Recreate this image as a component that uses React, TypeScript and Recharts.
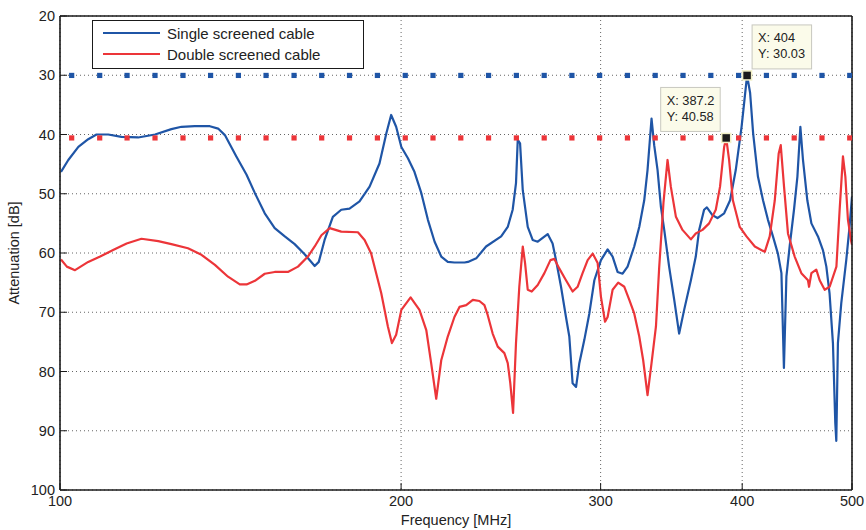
import { CartesianGrid, Line, LineChart, ReferenceDot, XAxis, YAxis } from "recharts";

const FONT = '"Liberation Sans", Arial, Helvetica, sans-serif';
const BLUE = "#1f55a6";
const RED = "#ec3539";
const INK = "#1a1a1a";

const freqTicks = [100, 200, 300, 400, 500];
const dbTicks = [20, 30, 40, 50, 60, 70, 80, 90, 100];

// Single screened cable
const singleFreq = [
  100.2, 101.7, 103.8, 105.9, 107.7, 110.3, 113.3, 117.2, 121.3, 125.4, 128.0, 131.5, 135.6, 137.9,
  139.8, 143.1, 146.1, 148.6, 151.6, 154.7, 157.9, 161.1, 164.4, 167.8, 169.2, 171.2, 174.1, 177.1,
  180.1, 183.8, 187.6, 191.4, 194.1, 196.0, 198.0, 200.1, 202.8, 205.5, 208.4, 211.2, 214.1, 217.0,
  219.9, 222.9, 227.5, 229.1, 233.0, 237.7, 245.1, 248.4, 250.9, 252.6, 253.5, 254.7, 256.1, 258.7,
  261.3, 264.0, 269.4, 272.1, 274.0, 276.8, 279.6, 281.5, 283.4, 285.4, 287.3, 290.2, 293.2, 296.2,
  300.2, 304.3, 307.4, 310.5, 313.7, 316.9, 321.2, 324.5, 327.8, 330.0, 332.7, 334.5, 336.8, 339.1,
  341.4, 344.8, 348.4, 351.9, 355.5, 360.4, 364.0, 366.5, 370.2, 372.3, 376.5, 380.4, 385.6, 390.3,
  394.8, 399.5, 404.0, 406.5, 409.0, 413.0, 417.3, 421.5, 425.8, 430.1, 433.2, 435.4, 437.6, 440.5,
  444.4, 447.5, 450.2, 452.6, 456.6, 460.4, 466.6, 471.3, 474.6, 477.7, 481.0, 483.3, 484.3, 485.9,
  489.2, 494.2, 497.5, 500.0,
];
const singleDb = [
  46.3, 44.3, 42.1, 40.8, 40.0, 40.0, 40.4, 40.5, 40.0, 39.1, 38.7, 38.6, 38.6, 39.0,
  40.1, 43.7, 46.8, 49.9, 53.3, 55.8, 57.2, 58.5, 60.2, 62.2, 61.5, 57.8, 53.9, 52.7,
  52.5, 51.3, 48.8, 44.9, 39.8, 36.7, 38.7, 42.1, 44.0, 46.3, 49.9, 54.4, 58.1, 60.6,
  61.5, 61.6, 61.6, 61.5, 60.9, 58.9, 57.2, 55.6, 52.7, 48.2, 40.9, 41.5, 49.4, 55.6,
  57.8, 58.1, 56.8, 58.4, 61.2, 65.7, 70.8, 74.1, 82.0, 82.6, 78.6, 74.7, 70.2, 64.6,
  61.2, 59.4, 60.6, 63.2, 63.5, 62.3, 58.9, 55.6, 51.1, 46.0, 37.3, 41.8, 46.0, 52.2,
  56.1, 62.3, 67.9, 73.6, 69.6, 64.6, 60.6, 56.1, 52.7, 52.3, 53.6, 54.1, 53.3, 51.1,
  46.0, 38.7, 30.03, 33.0, 39.8, 47.1, 51.1, 54.4, 57.2, 60.1, 63.4, 79.4, 64.0, 58.9,
  52.7, 47.1, 38.7, 44.3, 51.1, 55.0, 57.2, 59.5, 62.3, 66.8, 75.2, 88.7, 91.7, 75.2,
  68.5, 61.2, 55.6, 50.5,
];

// Double screened cable
const doubleFreq = [
  100.2, 101.4, 103.1, 105.9, 108.5, 111.4, 114.5, 118.0, 122.1, 125.4, 129.7, 133.3, 137.0, 140.7,
  144.1, 146.1, 148.6, 151.6, 154.7, 158.9, 162.2, 165.5, 167.8, 170.1, 173.0, 177.1, 183.2, 185.7,
  188.2, 192.1, 194.7, 196.3, 198.0, 200.1, 203.9, 207.6, 210.5, 212.6, 214.8, 217.0, 219.9, 222.9,
  225.2, 228.3, 231.4, 234.5, 236.9, 238.5, 240.9, 243.4, 246.7, 248.4, 249.7, 251.1, 252.6, 254.3,
  256.1, 257.3, 258.7, 260.8, 264.0, 267.6, 270.9, 273.1, 275.8, 279.6, 283.4, 286.3, 289.2, 292.2,
  295.2, 298.2, 300.2, 302.7, 304.3, 307.4, 310.9, 314.8, 318.0, 321.2, 324.5, 327.1, 330.0, 332.7,
  335.7, 337.9, 340.9, 343.7, 346.0, 349.6, 354.3, 360.4, 364.0, 369.0, 374.0, 379.1, 382.4, 385.6,
  387.2, 389.5, 392.5, 398.0, 403.5, 410.4, 418.8, 423.0, 427.4, 430.8, 432.6, 435.5, 439.0, 445.0,
  451.1, 457.2, 458.2, 460.4, 465.0, 468.2, 473.0, 477.8, 484.4, 487.6, 490.9, 493.3, 495.9, 499.3,
  500.0,
];
const doubleDb = [
  61.1, 62.3, 62.9, 61.5, 60.6, 59.5, 58.4, 57.6, 58.0, 58.5, 59.2, 60.3, 62.0, 64.0,
  65.3, 65.3, 64.7, 63.5, 63.2, 63.2, 62.3, 60.6, 58.9, 57.0, 55.8, 56.4, 56.5, 57.8,
  60.1, 66.8, 72.4, 75.2, 73.8, 69.6, 67.5, 69.6, 73.0, 78.6, 84.6, 78.1, 74.1, 70.8,
  69.1, 68.8, 67.9, 68.1, 68.8, 70.5, 73.6, 75.8, 76.9, 78.6, 82.0, 87.0, 75.2, 65.7,
  58.9, 61.7, 66.2, 66.5, 65.4, 63.4, 61.2, 61.0, 62.6, 64.6, 66.5, 65.7, 63.4, 61.2,
  60.1, 61.7, 67.4, 71.6, 70.8, 66.2, 65.0, 65.7, 67.9, 70.2, 74.1, 78.1, 84.0, 78.6,
  72.4, 62.5, 51.4, 44.3, 48.8, 53.9, 56.1, 57.7, 56.7, 56.1, 55.0, 52.7, 48.8, 42.1,
  40.58, 44.3, 51.1, 55.6, 57.2, 58.9, 59.8, 57.2, 51.1, 43.2, 41.8, 48.8, 56.7, 60.6,
  63.4, 64.6, 65.7, 63.4, 62.8, 64.6, 66.2, 65.7, 62.3, 52.7, 43.7, 47.1, 54.4, 58.1,
  58.6,
];

// limit markers drawn at each cable's maximum
const limitFreq = [
  102.4, 108.4, 114.6, 121.3, 128.4, 135.8, 143.7, 152.0, 160.9, 170.2, 180.1, 190.6, 201.7, 213.4,
  225.8, 238.9, 252.8, 267.5, 283.0, 299.4, 316.8, 335.2, 354.7, 375.3, 397.1, 420.2, 444.6, 470.4,
  497.7,
];
const singleLimit = 30.03;
const doubleLimit = 40.58;

const singleTip = { f: 404, db: 30.03, xText: "404", yText: "30.03" };
const doubleTip = { f: 387.2, db: 40.58, xText: "387.2", yText: "40.58" };

const zip = (fs: number[], ds: number[]) => fs.map((f, i) => ({ f, db: ds[i] }));
const singleData = zip(singleFreq, singleDb);
const doubleData = zip(doubleFreq, doubleDb);
const singleLimitData = limitFreq.map((f) => ({ f, db: singleLimit }));
const doubleLimitData = limitFreq.map((f) => ({ f, db: doubleLimit }));

const TICK = { fontSize: 14.5, fill: "#222", fontFamily: FONT };

function square(color: string) {
  return (p: any) => (
    <rect key={p.index} x={p.cx - 2.6} y={p.cy - 2.6} width={5.2} height={5.2} fill={color} />
  );
}

function DataTip({ cx, cy, xText, yText, right }: { cx: number; cy: number; xText: string; yText: string; right: boolean }) {
  const bx = right ? cx + 5 : cx - 65.5;
  const by = cy - 50.5;
  return (
    <g>
      <rect x={bx} y={by} width={59.5} height={44} fill="#fbfbea" stroke="#c8c8bf" strokeWidth={1} />
      <text x={bx + 6} y={by + 17.5} fontSize={12.8} fill="#222" fontFamily={FONT}>
        X: {xText}
      </text>
      <text x={bx + 6} y={by + 33.5} fontSize={12.8} fill="#222" fontFamily={FONT}>
        Y: {yText}
      </text>
      <rect x={cx - 4.5} y={cy - 4.5} width={9} height={9} fill="#1c1c1c" stroke="#f2f0c6" strokeWidth={1.5} />
    </g>
  );
}

function YTitle({ viewBox }: any) {
  const x = viewBox.x + 18.5;
  const y = viewBox.y + viewBox.height / 2;
  return (
    <text x={x} y={y} transform={`rotate(-90 ${x} ${y})`} textAnchor="middle" fontSize={14.5} fill="#222" fontFamily={FONT}>
      Attenuation [dB]
    </text>
  );
}

function LegendBox() {
  const row = (color: string, label: string, top: number) => (
    <div style={{ position: "absolute", left: 0, top, height: 20, display: "flex", alignItems: "center" }}>
      <div style={{ marginLeft: 10, width: 57, height: 2, background: color }} />
      <span style={{ marginLeft: 7, fontSize: 15, color: "#222", fontFamily: FONT, whiteSpace: "nowrap" }}>{label}</span>
    </div>
  );
  return (
    <div
      style={{
        position: "absolute",
        left: 92,
        top: 20,
        width: 270,
        height: 47,
        border: `1.5px solid ${INK}`,
        background: "#fff",
      }}
    >
      {row(BLUE, "Single screened cable", 2)}
      {row(RED, "Double screened cable", 23)}
    </div>
  );
}

export default function App() {
  return (
    <div style={{ position: "absolute", left: 0, top: 0, width: 866, height: 530, background: "#fff" }}>
      <LineChart width={866} height={530} margin={{ top: 0, right: 0, bottom: 0, left: 0 }} style={{ fontFamily: FONT }}>
        <CartesianGrid stroke="#666" strokeDasharray="1 3" />
        <XAxis
          dataKey="f"
          type="number"
          scale="log"
          domain={[100, 500]}
          ticks={freqTicks}
          allowDataOverflow
          height={40}
          tickSize={-7}
          tickMargin={13}
          axisLine={{ stroke: INK, strokeWidth: 1.6 }}
          tickLine={{ stroke: INK }}
          tick={TICK}
          label={{ value: "Frequency [MHz]", position: "insideBottom", offset: 5, fill: "#222", fontSize: 14.5, fontFamily: FONT }}
        />
        <XAxis
          xAxisId="top"
          orientation="top"
          dataKey="f"
          type="number"
          scale="log"
          domain={[100, 500]}
          ticks={freqTicks}
          allowDataOverflow
          height={16}
          tickSize={-7}
          axisLine={{ stroke: INK, strokeWidth: 1.6 }}
          tickLine={{ stroke: INK }}
          tick={false}
        />
        <YAxis
          type="number"
          domain={[20, 100]}
          reversed
          ticks={dbTicks}
          allowDataOverflow
          width={60}
          tickSize={-7}
          tickMargin={12}
          axisLine={{ stroke: INK, strokeWidth: 1.6 }}
          tickLine={{ stroke: INK }}
          tick={TICK}
          label={{ content: YTitle }}
        />
        <YAxis
          yAxisId="right"
          orientation="right"
          type="number"
          domain={[20, 100]}
          reversed
          ticks={dbTicks}
          width={14}
          tickSize={-7}
          axisLine={{ stroke: INK, strokeWidth: 1.6 }}
          tickLine={{ stroke: INK }}
          tick={false}
        />
        <Line data={singleLimitData} dataKey="db" stroke="none" dot={square(BLUE)} isAnimationActive={false} />
        <Line data={doubleLimitData} dataKey="db" stroke="none" dot={square(RED)} isAnimationActive={false} />
        <Line data={singleData} dataKey="db" stroke={BLUE} strokeWidth={2.2} dot={false} strokeLinejoin="round" isAnimationActive={false} />
        <Line data={doubleData} dataKey="db" stroke={RED} strokeWidth={2.2} dot={false} strokeLinejoin="round" isAnimationActive={false} />
        <ReferenceDot
          x={doubleTip.f}
          y={doubleTip.db}
          r={4}
          shape={(p: any) => <DataTip cx={p.cx} cy={p.cy} xText={doubleTip.xText} yText={doubleTip.yText} right={false} />}
        />
        <ReferenceDot
          x={singleTip.f}
          y={singleTip.db}
          r={4}
          shape={(p: any) => <DataTip cx={p.cx} cy={p.cy} xText={singleTip.xText} yText={singleTip.yText} right={true} />}
        />
      </LineChart>
      <LegendBox />
    </div>
  );
}
